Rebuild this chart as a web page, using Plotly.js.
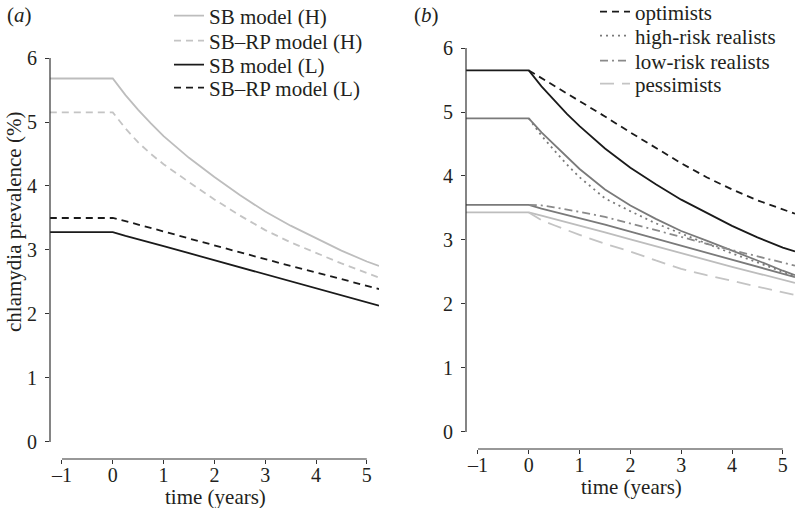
<!DOCTYPE html>
<html>
<head>
<meta charset="utf-8">
<script src="https://cdn.plot.ly/plotly-3.0.1.min.js"></script>
<style>html,body{margin:0;padding:0;background:#fff;}#chart{width:795px;height:508px;}</style>
</head>
<body>
<div id="chart"></div>
<script>
// ---- data ----
const time = [-1.24, 0, 0.25, 0.5, 0.75, 1, 1.5, 2, 2.5, 3, 3.5, 4, 4.5, 5, 5.24];
const xTicks = [-1, 0, 1, 2, 3, 4, 5];
const yTicks = [0, 1, 2, 3, 4, 5, 6];

// panel (a)
const sbH   = [5.68, 5.68, 5.42, 5.19, 4.98, 4.78, 4.44, 4.14, 3.86, 3.60, 3.38, 3.18, 2.99, 2.82, 2.75];
const sbrpH = [5.15, 5.15, 4.90, 4.68, 4.50, 4.34, 4.06, 3.79, 3.54, 3.31, 3.12, 2.95, 2.79, 2.64, 2.57];
const sbL   = [3.28, 3.28, 3.22, 3.17, 3.11, 3.06, 2.95, 2.84, 2.73, 2.62, 2.51, 2.40, 2.29, 2.18, 2.13];
const sbrpL = [3.50, 3.50, 3.45, 3.40, 3.35, 3.29, 3.18, 3.07, 2.96, 2.85, 2.75, 2.65, 2.55, 2.44, 2.39];
const namesA = ['SB model (H)', 'SB\u2013RP model (H)', 'SB model (L)', 'SB\u2013RP model (L)'];

// panel (b): SB model curves per group, and SB–RP curves per group
const optSB = [5.65, 5.65, 5.40, 5.18, 4.97, 4.78, 4.43, 4.13, 3.87, 3.63, 3.42, 3.22, 3.04, 2.88, 2.82];
const optRP = [null, 5.65, 5.53, 5.41, 5.30, 5.18, 4.93, 4.68, 4.44, 4.20, 3.98, 3.79, 3.62, 3.47, 3.41];
const hrSB  = [4.90, 4.90, 4.68, 4.49, 4.29, 4.11, 3.79, 3.54, 3.33, 3.14, 2.99, 2.84, 2.68, 2.52, 2.45];
const hrRP  = [null, 4.90, 4.63, 4.40, 4.18, 3.98, 3.65, 3.45, 3.26, 3.10, 2.94, 2.79, 2.65, 2.50, 2.43];
const lrSB  = [3.55, 3.55, 3.49, 3.44, 3.40, 3.35, 3.24, 3.13, 3.02, 2.91, 2.80, 2.69, 2.58, 2.47, 2.42];
const lrRP  = [null, 3.55, 3.54, 3.51, 3.48, 3.44, 3.36, 3.26, 3.16, 3.05, 2.94, 2.84, 2.74, 2.65, 2.60];
const peSB  = [3.43, 3.43, 3.38, 3.33, 3.27, 3.22, 3.12, 3.01, 2.90, 2.80, 2.69, 2.58, 2.48, 2.38, 2.33];
const peRP  = [null, 3.43, 3.31, 3.23, 3.15, 3.08, 2.94, 2.82, 2.68, 2.55, 2.45, 2.36, 2.27, 2.19, 2.14];
const namesB = ['optimists', 'high-risk realists', 'low-risk realists', 'pessimists'];

// ---- styles ----
const FONT = 'Liberation Serif, Times New Roman, serif';
const TXT = '#231f20';
const BLACK = '#1a1a1a', DGREY = '#7a7a7a', MGREY = '#8a8a8a', LGREY = '#bdbdbd', LGREY2 = '#c4c4c4';
const DASH = '7px,5px', DOT = '2px,4px', DASHDOT = '8px,4px,2px,4px', LONGDASH = '14px,8px';

function tr(y, name, color, dash, xa, ya, leg) {
  return {
    type: 'scatter', mode: 'lines', x: time, y: y, name: name,
    xaxis: xa, yaxis: ya, showlegend: !!leg, legend: leg || 'legend',
    line: {color: color, width: 1.8, dash: dash},
    connectgaps: false, hoverinfo: 'skip'
  };
}

const traces = [
  tr(sbH,   namesA[0], LGREY,  'solid', 'x',  'y',  'legend'),
  tr(sbrpH, namesA[1], LGREY2, DASH,    'x',  'y',  'legend2'),
  tr(sbL,   namesA[2], BLACK,  'solid', 'x',  'y',  'legend3'),
  tr(sbrpL, namesA[3], BLACK,  DASH,    'x',  'y',  'legend4'),
  tr(optSB, 'SB optimists', BLACK, 'solid', 'x2', 'y2', null),
  tr(hrSB,  'SB high-risk realists', DGREY, 'solid', 'x2', 'y2', null),
  tr(lrSB,  'SB low-risk realists', DGREY, 'solid', 'x2', 'y2', null),
  tr(peSB,  'SB pessimists', LGREY, 'solid', 'x2', 'y2', null),
  tr(optRP, namesB[0], BLACK, DASH,     'x2', 'y2', 'legend5'),
  tr(hrRP,  namesB[1], DGREY, DOT,      'x2', 'y2', 'legend6'),
  tr(lrRP,  namesB[2], MGREY, DASHDOT,  'x2', 'y2', 'legend7'),
  tr(peRP,  namesB[3], LGREY2, LONGDASH,'x2', 'y2', 'legend8')
];

const W = 795, H = 508;
const xRange = [-1.236, 5.24];
const yRange = [-0.266, 6.25];

function xAxis(domain, anchor) {
  return {
    domain: domain, anchor: anchor, range: xRange, fixedrange: true,
    showgrid: false, zeroline: false, showline: false,
    ticks: 'outside', ticklen: 4, tickwidth: 1, tickcolor: '#333', ticklabelstandoff: -6,
    tickmode: 'array', tickvals: xTicks, ticktext: xTicks.map(v => v < 0 ? '\u2013' + Math.abs(v) : String(v)),
    tickfont: {family: FONT, size: 20, color: TXT},
    automargin: false
  };
}
function yAxis(domain, anchor) {
  return {
    domain: domain, anchor: anchor, range: yRange, fixedrange: true,
    showgrid: false, zeroline: false, showline: false,
    ticks: 'outside', ticklen: 4, tickwidth: 1, tickcolor: '#333', ticklabelstandoff: 4,
    tickmode: 'array', tickvals: yTicks,
    tickfont: {family: FONT, size: 20, color: TXT},
    automargin: false
  };
}

function spines(xa, ya) {
  const s = {color: '#333', width: 1.2};
  return [
    {type: 'line', xref: xa, yref: ya + ' domain', x0: xTicks[0], x1: xTicks[xTicks.length-1], y0: 0, y1: 0, line: s},
    {type: 'line', xref: xa + ' domain', yref: ya, x0: 0, x1: 0, y0: yTicks[0], y1: yTicks[yTicks.length-1], line: s}
  ];
}

function leg(xpx, ypx) {
  return {
    x: xpx / W, y: 1 - ypx / H, xanchor: 'left', yanchor: 'middle',
    bgcolor: 'rgba(0,0,0,0)', borderwidth: 0,
    font: {family: FONT, size: 21, color: TXT}
  };
}

function ann(text, xpx, ypx, extra) {
  return Object.assign({xref: 'paper', yref: 'paper', x: xpx / W, y: 1 - ypx / H,
    xanchor: 'center', yanchor: 'middle', text: text, showarrow: false,
    font: {family: FONT, size: 21, color: TXT}}, extra || {});
}

const layout = {
  width: W, height: H,
  margin: {l: 0, r: 0, t: 0, b: 0, autoexpand: false},
  paper_bgcolor: '#fff', plot_bgcolor: 'rgba(0,0,0,0)',
  font: {family: FONT, size: 21, color: TXT},
  xaxis:  xAxis([50/W, 379/W], 'y'),
  yaxis:  yAxis([(H-459)/H, (H-42)/H], 'x'),
  xaxis2: xAxis([466/W, 1], 'y2'),
  yaxis2: yAxis([(H-449)/H, (H-32)/H], 'x2'),
  legend:  leg(169, 16),
  legend2: leg(169, 41),
  legend3: leg(169, 65),
  legend4: leg(169, 88),
  legend5: leg(595, 12),
  legend6: leg(595, 36),
  legend7: leg(595, 61),
  legend8: leg(595, 84),
  shapes: spines('x', 'y').concat(spines('x2', 'y2')),
  annotations: [
    ann('(<i>a</i>)', 5, 15, {xanchor: 'left'}),
    ann('(<i>b</i>)', 412, 15, {xanchor: 'left'}),
    ann('time (years)', 215, 497),
    ann('time (years)', 631, 487),
    ann('chlamydia prevalence (%)', 14, 222, {textangle: -90})
  ]
};

Plotly.newPlot('chart', traces, layout, {staticPlot: true, displayModeBar: false});
</script>
</body>
</html>
